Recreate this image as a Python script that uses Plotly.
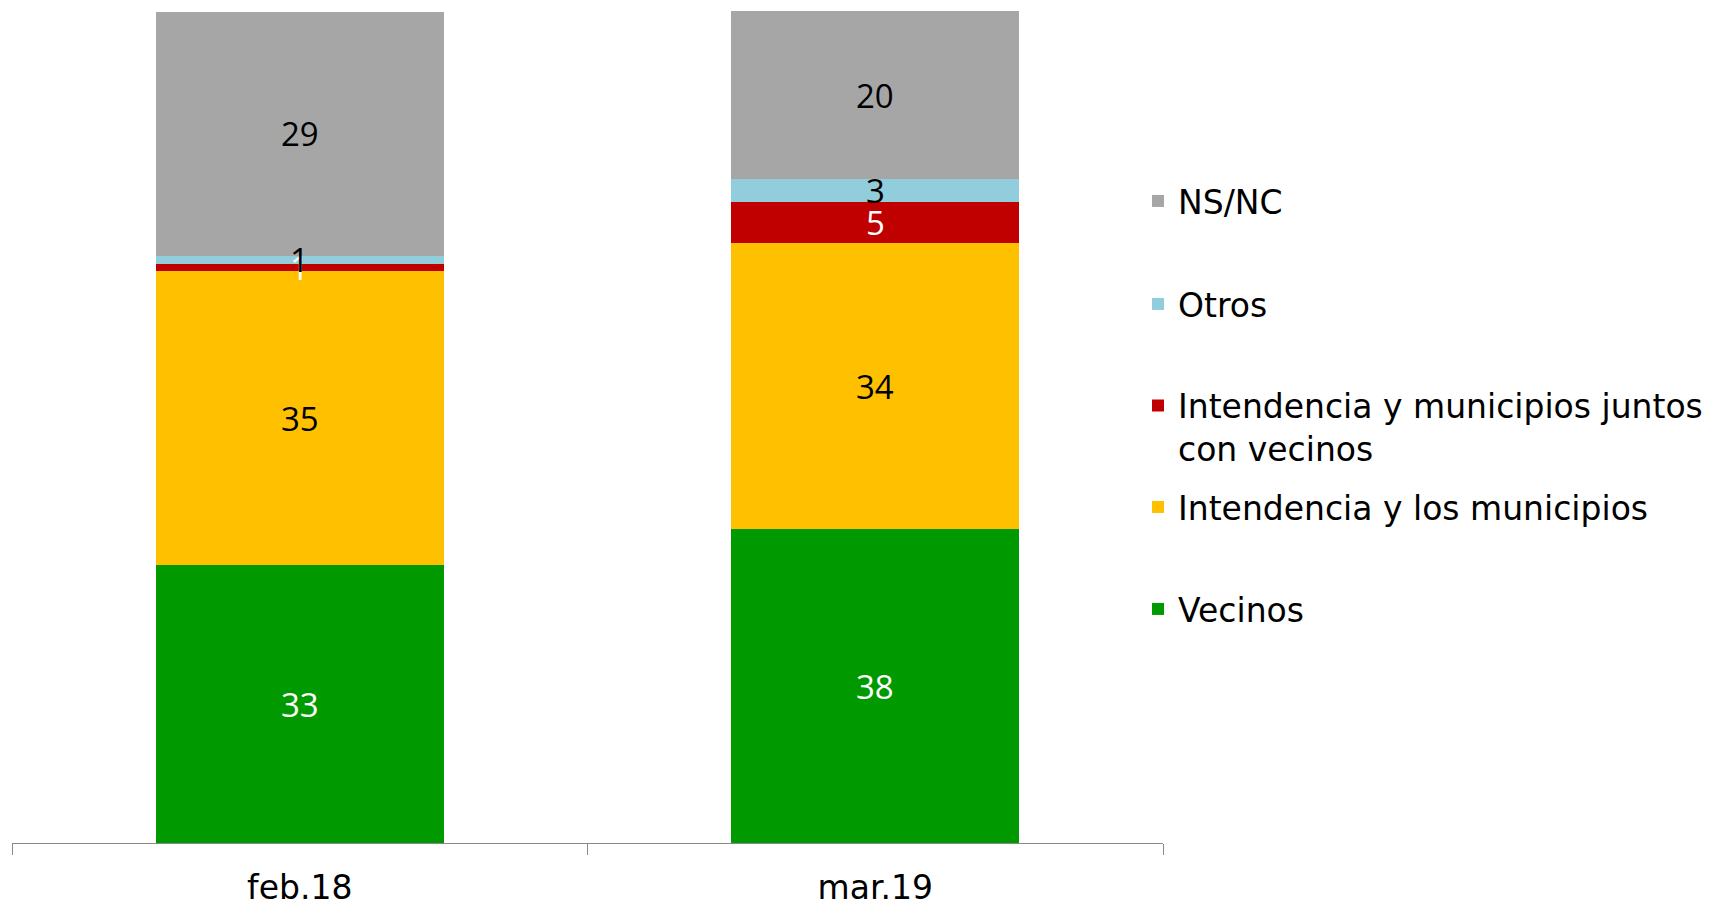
import plotly.graph_objects as go

categories = ["feb.18", "mar.19"]
series_names = ["Vecinos", "Intendencia y los municipios",
                "Intendencia y municipios juntos<br>con vecinos", "Otros", "NS/NC"]
vecinos = [33.4, 37.7]
intendencia = [35.3, 34.4]
juntos = [0.9, 4.9]
otros = [1.0, 2.8]
nsnc = [29.3, 20.2]
values = [vecinos, intendencia, juntos, otros, nsnc]
colors = ["#009A00", "#FFC000", "#C00000", "#92CDDC", "#A6A6A6"]
text_colors = ["white", "black", "white", "black", "black"]

LBL_FONT = "Open Sans"
LBL_FS = 33
TXT_FONT = "DejaVu Sans"
TXT_FS = 33

fig = go.Figure()
legend_ids = ["legend5", "legend4", "legend3", "legend2", "legend"]
annotations = []
base = [0.0] * len(categories)
for name, vals, col, tcol, lid in zip(series_names, values, colors, text_colors, legend_ids):
    fig.add_trace(go.Bar(
        x=categories, y=vals, name=name,
        marker=dict(color=col, line=dict(width=0)),
        legend=lid,
        hovertemplate="%{x}: %{y:.0f}<extra>" + name + "</extra>",
    ))
    for i, (c, v) in enumerate(zip(categories, vals)):
        annotations.append(dict(
            x=c, y=base[i] + v / 2, xref="x", yref="y",
            text=f"{round(v):d}", showarrow=False,
            font=dict(family=LBL_FONT, size=LBL_FS, color=tcol),
            xanchor="center", yanchor="middle",
        ))
        base[i] += v

OFF = 8  # page offset of the figure
W, H = 1715, 907
L, T = 12 - OFF, 11 - OFF
R = W - (1163 - OFF)
B = H - (843 - OFF)
pw, ph = W - L - R, H - T - B


def px_x(p):
    return (p - OFF - L) / pw


def px_y(p):
    return (H - B - (p - OFF)) / ph


leg_common = dict(font=dict(family=TXT_FONT, size=TXT_FS, color="black"),
                  xanchor="left", yanchor="middle", bgcolor="rgba(0,0,0,0)",
                  itemwidth=30, valign="top")
leg_centers = {"legend": 201, "legend2": 304, "legend3": 427, "legend4": 507, "legend5": 609}
layout_legends = {}
for lid, cy in leg_centers.items():
    layout_legends[lid] = dict(leg_common, x=px_x(1138), y=px_y(cy))

fig.update_layout(
    barmode="stack",
    bargap=0.5,
    width=W, height=H,
    margin=dict(l=L, r=R, t=T, b=B),
    plot_bgcolor="white", paper_bgcolor="white",
    font=dict(family=TXT_FONT, size=TXT_FS, color="black"),
    xaxis=dict(showgrid=False, showline=True, linecolor="#898989", linewidth=1,
               ticks="outside", tickson="boundaries", ticklen=11, tickcolor="#898989",
               tickfont=dict(family=TXT_FONT, size=TXT_FS, color="black"),
               ticklabelstandoff=15),
    yaxis=dict(range=[0, 100], visible=False),
    showlegend=True,
    annotations=annotations,
    **layout_legends,
)

fig.write_html("out.html")
